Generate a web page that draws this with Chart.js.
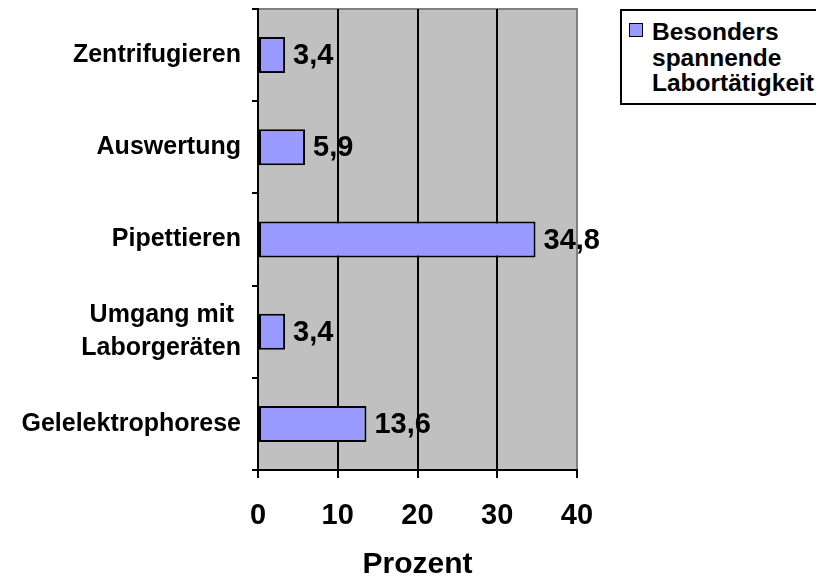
<!DOCTYPE html>
<html lang="de">
<head>
<meta charset="utf-8">
<title>Besonders spannende Labortätigkeit</title>
<script src="https://cdn.jsdelivr.net/npm/chart.js@4/dist/chart.umd.min.js"></script>
<style>
    html, body {
        margin: 0;
        padding: 0;
        background: #fff;
        overflow: hidden;
    }
    #wrap {
        position: relative;
        width: 816px;
        height: 583px;
    }
    #legend {
        position: absolute;
        left: 620px;
        top: 9px;
        width: 220px;
        height: 92px;
        border: 2px solid #000;
        background: #fff;
        font: bold 24.5px "Liberation Sans", Arial, sans-serif;
        line-height: 25.5px;
        color: #000;
        box-sizing: content-box;
    }
    #legend .swatch {
        position: absolute;
        left: 7px;
        top: 12px;
        width: 12px;
        height: 12px;
        background: #9999FF;
        border: 1.5px solid #000;
    }
    #legend .text {
        position: absolute;
        left: 30px;
        top: 8px;
        white-space: nowrap;
    }
</style>
</head>
<body>
<div id="wrap">
    <canvas id="laborChart" width="816" height="583"></canvas>
    <div id="legend">
        <span class="swatch"></span>
        <div class="text">Besonders<br>spannende<br>Labortätigkeit</div>
    </div>
</div>

<script>
// ===========================
// DATA
// ===========================

const categories = [
    'Zentrifugieren',
    'Auswertung',
    'Pipettieren',
    ['Umgang mit ', 'Laborgeräten'],
    'Gelelektrophorese'
];
const percentValues = [3.4, 5.9, 34.8, 3.4, 13.6];
const xTicks = [0, 10, 20, 30, 40];
const seriesLabel = 'Besonders spannende Labortätigkeit';
const axisTitle = 'Prozent';

const FONT = '"Liberation Sans", Arial, sans-serif';

/**
 * Format number with German decimal comma
 */
function formatDe(v) {
    return v.toFixed(1).replace('.', ',');
}

// Gray plot area with gray top/right frame
const plotBackground = {
    id: 'plotBackground',
    beforeDraw(chart) {
        const { ctx, chartArea: a } = chart;
        ctx.save();
        ctx.fillStyle = '#C0C0C0';
        ctx.fillRect(a.left, a.top, a.right - a.left, a.bottom - a.top);
        ctx.strokeStyle = '#808080';
        ctx.lineWidth = 2;
        ctx.beginPath();
        ctx.moveTo(a.left, a.top);
        ctx.lineTo(a.right, a.top);
        ctx.lineTo(a.right, a.bottom);
        ctx.stroke();
        ctx.restore();
    }
};

// Value labels to the right of each bar
const valueLabels = {
    id: 'valueLabels',
    afterDatasetsDraw(chart) {
        const { ctx } = chart;
        const meta = chart.getDatasetMeta(0);
        ctx.save();
        ctx.font = 'bold 29px ' + FONT;
        ctx.fillStyle = '#000';
        ctx.textAlign = 'left';
        ctx.textBaseline = 'middle';
        meta.data.forEach((bar, i) => {
            ctx.fillText(formatDe(percentValues[i]), bar.x + 8, bar.y + 1);
        });
        ctx.restore();
    }
};

const ctx = document.getElementById('laborChart');

new Chart(ctx, {
    type: 'bar',
    data: {
        labels: categories,
        datasets: [{
            label: seriesLabel,
            data: percentValues,
            backgroundColor: '#9999FF',
            borderColor: '#000',
            borderWidth: 2,
            borderSkipped: false,
            categoryPercentage: 1,
            barPercentage: 0.39
        }]
    },
    options: {
        indexAxis: 'y',
        responsive: false,
        animation: false,
        devicePixelRatio: 1,
        layout: {
            padding: { top: 9, right: 239, bottom: 0, left: 0 }
        },
        plugins: {
            legend: { display: false },
            tooltip: { enabled: false }
        },
        scales: {
            x: {
                min: xTicks[0],
                max: xTicks[xTicks.length - 1],
                afterFit: scale => { scale.height = 113; },
                afterBuildTicks: scale => {
                    scale.ticks = xTicks.map(v => ({ value: v }));
                },
                border: { color: '#000', width: 2 },
                grid: {
                    color: c => (c.tick && c.tick.value === xTicks[xTicks.length - 1]) ? '#808080' : '#000',
                    lineWidth: 2,
                    tickColor: '#000',
                    tickLength: 8
                },
                ticks: {
                    font: { family: FONT, size: 29, weight: 'bold' },
                    color: '#000',
                    padding: 21,
                    maxRotation: 0
                },
                title: {
                    display: true,
                    text: axisTitle,
                    font: { family: FONT, size: 30, weight: 'bold' },
                    color: '#000',
                    padding: { top: 13, bottom: 0 }
                }
            },
            y: {
                afterFit: scale => {
                    scale.width = 258;
                    // labels sit inside their bands, no extra room needed
                    scale.paddingTop = 0;
                    scale.paddingBottom = 0;
                },
                border: { color: '#000', width: 2 },
                grid: {
                    drawOnChartArea: false,
                    color: '#000',
                    lineWidth: 2,
                    tickLength: 6
                },
                ticks: {
                    font: { family: FONT, size: 25, weight: 'bold', lineHeight: 1.3 },
                    color: '#000',
                    padding: 11
                }
            }
        }
    },
    plugins: [plotBackground, valueLabels]
});
</script>
</body>
</html>
